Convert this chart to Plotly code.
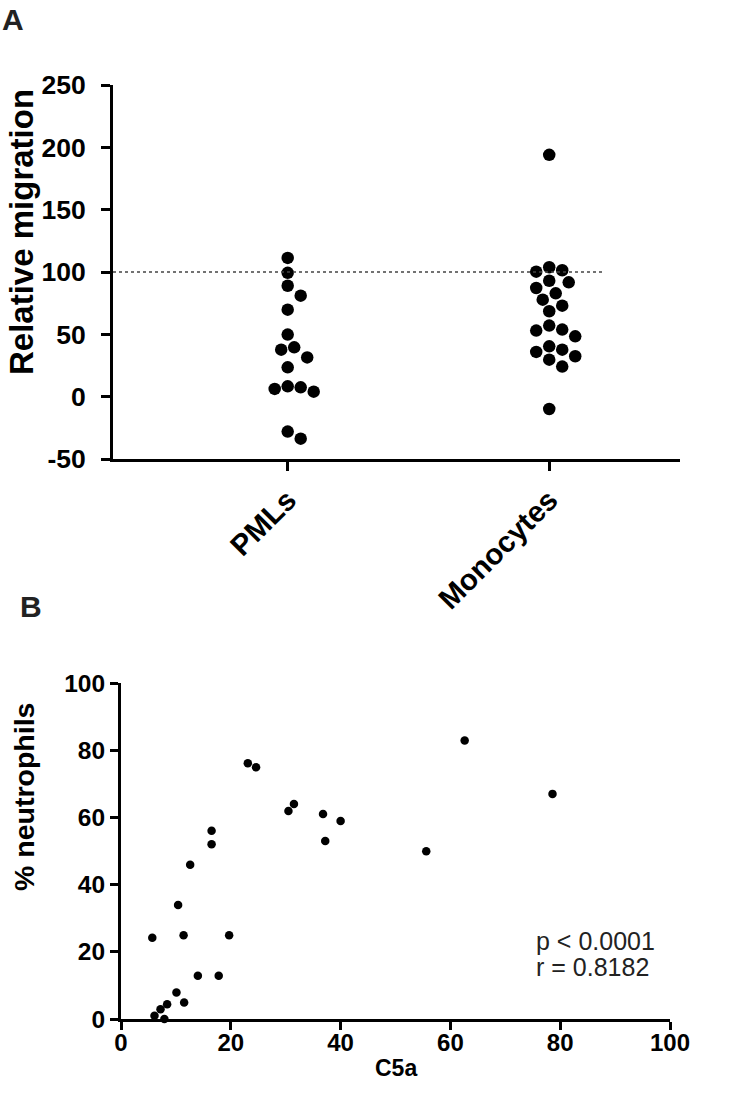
import plotly.graph_objects as go

# ---------------- Data ----------------
categories = ["PMLs", "Monocytes"]
pmls = [111.3, 99.3, 89, 81, 69.8, 49.8, 39.6, 37.7, 31.5, 23.5, 8.3, 6.2, 4, 7.5, -28, -33.7]
monocytes = [194, 101.4, 103.8, 100.3, 93, 91.7, 87.2, 82.9, 77.8, 73, 68.5, 57, 53, 48.4,
             53.8, 40.4, 35.9, 32.4, 37.7, 29.7, 24.1, -9.9]
baseline = 100

c5a = [5.7, 6.1, 7.2, 7.9, 8.4, 10.1, 11.5, 10.4, 11.4, 12.6, 14, 17.8, 16.5, 16.5, 19.7,
       23.1, 24.6, 30.5, 31.5, 36.8, 37.2, 40, 55.6, 62.6, 78.6]
neutro = [24.2, 1, 2.9, 0, 4.4, 7.9, 4.9, 33.9, 24.9, 45.9, 12.9, 12.9, 56, 52, 24.9,
          76.1, 74.9, 61.9, 64, 61, 53, 58.9, 49.9, 82.9, 67]

yticks_a = [-50, 0, 50, 100, 150, 200, 250]
yticklabels_a = ["-50", "0", "50", "100", "150", "200", "250"]
ticks_b = [0, 20, 40, 60, 80, 100]
stats_lines = ["p < 0.0001", "r = 0.8182"]

# ---------------- Layout geometry ----------------
W, H = 730, 1094
A_x0, A_x1, A_y0, A_y1 = 113, 680, 85, 459
B_x0, B_x1, B_y0, B_y1 = 121, 670, 683, 1019
xr_a = [0.332, 2.5]
yr_a = [-50, 250]
px_per_x = (A_x1 - A_x0) / (xr_a[1] - xr_a[0])
px_per_y = (A_y1 - A_y0) / (yr_a[1] - yr_a[0])
DIAM = 13.0
STEP = DIAM / 2


def beeswarm(values, center):
    placed = []
    xs = [None] * len(values)
    order = sorted(range(len(values)), key=lambda i: -values[i])
    for i in order:
        yp = values[i] * px_per_y
        k_list = [0]
        for k in range(1, 12):
            k_list += [k, -k]
        for k in k_list:
            xp = k * STEP
            if all((xp - a) ** 2 + (yp - b) ** 2 >= (DIAM * 0.98) ** 2 for a, b in placed):
                placed.append((xp, yp))
                xs[i] = center + xp / px_per_x
                break
    return xs


x_pmls = beeswarm(pmls, 1)
x_mono = beeswarm(monocytes, 2)

fig = go.Figure()
fig.add_trace(go.Scatter(x=x_pmls, y=pmls, mode="markers",
                         marker=dict(color="black", size=12.5), xaxis="x", yaxis="y",
                         cliponaxis=False, showlegend=False))
fig.add_trace(go.Scatter(x=x_mono, y=monocytes, mode="markers",
                         marker=dict(color="black", size=12.5), xaxis="x", yaxis="y",
                         cliponaxis=False, showlegend=False))
fig.add_trace(go.Scatter(x=c5a, y=neutro, mode="markers",
                         marker=dict(color="black", size=8.5), xaxis="x2", yaxis="y2",
                         cliponaxis=False, showlegend=False))

fig.add_shape(type="line", xref="x", yref="y", x0=xr_a[0], x1=2.21, y0=baseline, y1=baseline,
              line=dict(color="#444", width=1.5, dash="dot"))

FONT = "Liberation Sans"
axis_common = dict(showline=True, linewidth=3, linecolor="black", ticks="outside",
                   tickwidth=3, tickcolor="black", showgrid=False, zeroline=False,
                   automargin=False)
fig.update_layout(
    template="none",
    width=W, height=H, margin=dict(l=0, r=0, t=0, b=0, pad=0),
    paper_bgcolor="white", plot_bgcolor="white",
    font=dict(family=FONT, color="black"),
    xaxis=dict(domain=[A_x0 / W, A_x1 / W], range=xr_a, tickvals=[1, 2], ticktext=categories,
               tickangle=-45, ticklen=9, tickfont=dict(size=29.5, weight="bold"), anchor="y",
               **axis_common),
    yaxis=dict(domain=[1 - A_y1 / H, 1 - A_y0 / H], range=yr_a, tickvals=yticks_a,
               ticktext=yticklabels_a, ticklabelstandoff=10,
               ticklen=9, tickfont=dict(size=26.5, weight="bold"), anchor="x", **axis_common),
    xaxis2=dict(domain=[B_x0 / W, B_x1 / W], range=[0, 100], tickvals=ticks_b,
                ticklabelstandoff=-8,
                ticklen=8, tickfont=dict(size=24, weight="bold"), anchor="y2", **axis_common),
    yaxis2=dict(domain=[1 - B_y1 / H, 1 - B_y0 / H], range=[0, 100], tickvals=ticks_b,
                ticklen=8, tickfont=dict(size=24.5, weight="bold"), anchor="x2", **axis_common),
    annotations=[
        dict(text="A", xref="paper", yref="paper", x=0 / W, y=1 - 1 / H, xanchor="left",
             yanchor="top", showarrow=False, font=dict(size=30, weight="bold", color="#222")),
        dict(text="B", xref="paper", yref="paper", x=18 / W, y=1 - 588 / H, xanchor="left",
             yanchor="top", showarrow=False, font=dict(size=30, weight="bold", color="#222")),
        dict(text="Relative migration", xref="paper", yref="paper", x=21 / W,
             y=1 - 232 / H, textangle=-90, xanchor="center", yanchor="middle",
             showarrow=False, font=dict(size=33, weight="bold")),
        dict(text="% neutrophils", xref="paper", yref="paper", x=24 / W,
             y=1 - 797 / H, textangle=-90, xanchor="center", yanchor="middle",
             showarrow=False, font=dict(size=28.5, weight="bold")),
        dict(text="C5a", xref="paper", yref="paper", x=396 / W,
             y=1 - 1068 / H, xanchor="center", yanchor="middle",
             showarrow=False, font=dict(size=23, weight="bold")),
        dict(text=stats_lines[0], xref="paper", yref="paper", x=534 / W, y=1 - 941 / H,
             xanchor="left", yanchor="middle", showarrow=False,
             font=dict(size=25, color="#222")),
        dict(text=stats_lines[1], xref="paper", yref="paper", x=534 / W, y=1 - 967 / H,
             xanchor="left", yanchor="middle", showarrow=False,
             font=dict(size=25, color="#222")),
    ],
)

fig.write_html("out.html", config={"displayModeBar": False},
               post_script="document.body.style.margin='0';document.body.style.overflow='hidden';")
